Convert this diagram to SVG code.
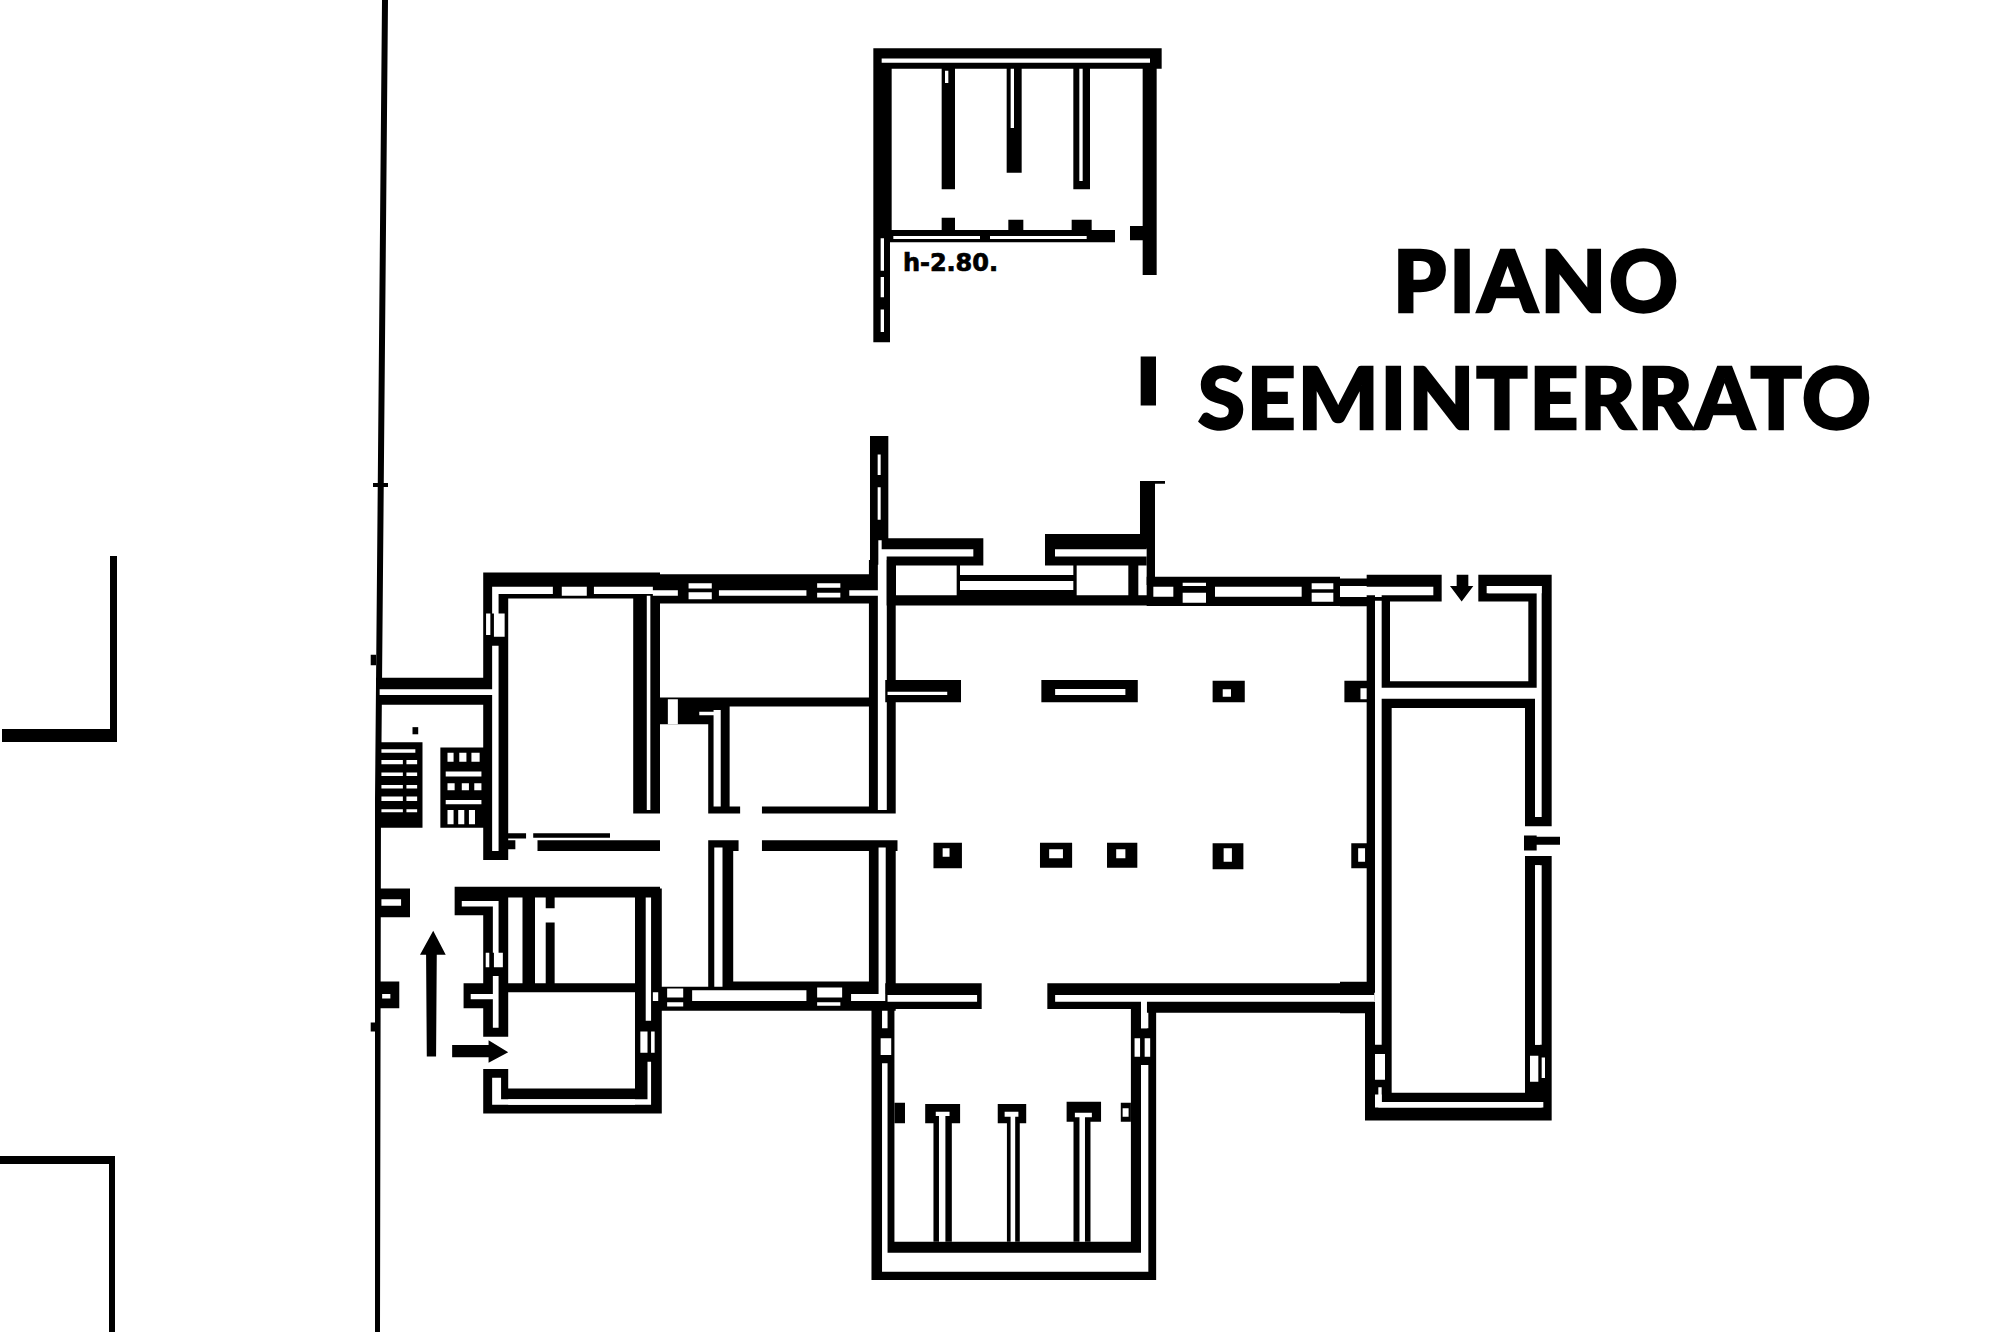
<svg xmlns="http://www.w3.org/2000/svg" width="2000" height="1332" viewBox="0 0 2000 1332">
<style>
.k{fill:#000}
.w{fill:#fff}
.t{font-family:"Lato","Open Sans","Liberation Sans",sans-serif;font-weight:900;font-size:85px;fill:#000;stroke:#000;stroke-width:2.5}
.n{font-family:"DejaVu Sans",sans-serif;font-weight:700;font-size:24px;fill:#000;stroke:#000;stroke-width:.7}
</style>
<rect width="2000" height="1332" fill="#fff"/>
<g id="street">
<path class="k" d="M382 0H388L381 800L380 1332H375L375 800Z"/>
<path class="k" d="M373 483H388V487H373Z"/>
<path class="k" d="M2 729H110V556H117V742H2Z"/>
<path class="k" d="M0 1156H115V1332H109V1164H0Z"/>
</g>
<g id="west-wing" transform="translate(360 560) scale(.35714)">
<path class="k" d="M30 265H45V295H30ZM30 1295H45V1320H30ZM345 35H840V108H345ZM840 40H1450V122H840ZM345 35H415V840H345ZM45 330H370V405H45ZM45 510H175V750H45ZM225 525H345V750H225ZM415 765H465V780H415ZM485 765H700V778H485ZM497 785H840V815H497ZM415 785H435V810H415ZM765 100H840V710H765ZM830 385H1430V410H830ZM830 385H975V460H830ZM975 410H1035V710H975ZM975 690H1065V710H975ZM1125 690H1430V710H1125ZM1425 0H1500V710H1425Z"/>
<path class="k" d="M975 785H1060V815H975ZM1125 785H1505V815H1125ZM975 785H1045V1195H975ZM1425 785H1500V1262H1425ZM975 1180H1430V1262H975ZM810 1195H975V1262H810Z"/>
<path class="k" d="M265 915H840V945H265ZM265 915H345V995H265ZM345 945H415V1335H345ZM290 1185H345V1255H290ZM455 945H490V1185H455ZM520 945H545V975H520ZM520 1015H545V1185H520ZM415 1185H775V1210H415ZM770 920H845V1550H770ZM345 1425H415V1550H345ZM395 1480H805V1510H395ZM345 1525H845V1550H345ZM55 920H140V1000H55ZM55 1180H110V1255H55Z"/>
<path class="w" d="M370 75H540V95H370ZM370 75H388V150H370ZM565 75H635V100H565ZM655 75H820V95H655ZM820 85H890V100H820ZM920 65H985V80H920ZM920 90H985V110H920ZM1005 85H1250V100H1005ZM1280 65H1345V78H1280ZM1280 92H1345V105H1280ZM1370 85H1475V100H1370ZM375 150H405V215H375ZM353 150H365V210H353ZM370 240H388V815H370ZM55 362H380V378H55ZM803 100H813V700H803ZM862 390H890V460H862ZM950 425H1005V435H950ZM990 420H1010V690H990ZM1450 0H1475V700H1450Z"/>
<path class="w" d="M60 530H155V540H60ZM60 560H120V572H60ZM130 560H160V572H130ZM60 595H120V605H60ZM130 595H160V605H130ZM60 630H120V640H60ZM130 630H160V640H130ZM60 662H120V675H60ZM130 662H160V675H130ZM60 698H120V706H60ZM130 698H160V706H130Z"/>
<path class="w" d="M245 540H262V565H245ZM278 540H298V565H278ZM312 540H335V565H312ZM240 592H340V606H240ZM245 625H265V645H245ZM285 625H305V645H285ZM320 625H340V645H320ZM240 672H340V684H240ZM245 700H262V740H245ZM275 700H292V740H275ZM305 700H322V740H305Z"/>
<path class="k" d="M147 468H163V488H147Z"/>
<path class="w" d="M992 805H1015V1195H992ZM1452 805H1472V1215H1452ZM930 1205H1250V1235H930ZM1280 1197H1350V1225H1280ZM1280 1238H1345V1248H1280ZM1375 1215H1475V1235H1375ZM860 1200H905V1225H860ZM860 1238H905V1250H860ZM820 1210H835V1235H820Z"/>
<path class="w" d="M285 955H372V970H285ZM372 955H388V1100H372ZM352 1100H362V1140H352ZM375 1100H400V1140H375ZM372 1165H388V1310H372ZM310 1215H372V1230H310ZM800 945H815V1290H800ZM785 1320H805V1380H785ZM815 1320H825V1380H815ZM805 1405H815V1510H805ZM370 1450H395V1525H370ZM370 1510H815V1525H370ZM60 950H115V968H60ZM62 1215H85V1228H62Z"/>
<path class="w" d="M1065 685H1125V715H1065ZM1065 782H1125V818H1065Z"/>
<path class="k" d="M185 1100H215L213 1390H187ZM168 1105L205 1038L240 1105Z"/>
<path class="k" d="M258 1358H360V1392H258ZM360 1345L415 1378L360 1408Z"/>
</g>
<g id="north-wing" transform="translate(860 30) scale(.33333 .40816)">
<path class="k" d="M40 45H905V95H40ZM40 45H95V500H40ZM40 500H90V765H40ZM245 95H285V390H245ZM440 95H485V350H440ZM640 95H690V390H640ZM90 490H765V520H90ZM245 460H285V490H245ZM445 465H490V490H445ZM635 465H695V490H635ZM810 480H850V515H810ZM848 95H890V600H848ZM842 800H888V920H842ZM30 995H85V1250H30ZM30 1250H55V1310H30Z"/>
<path class="w" d="M65 70H870V80H65ZM62 510H72V590H62ZM62 605H72V655H62ZM62 685H72V740H62ZM255 100H265V130H255ZM452 95H462V240H452ZM658 95H668V370H658ZM100 505H360V512H100ZM390 505H680V512H390ZM53 1040H62V1090H53ZM53 1120H62V1200H53Z"/>
<path class="k" d="M840 1105H915V1112H840ZM840 1105H885V1270H840ZM860 1270H885V1345H860ZM860 1345H1020V1360H860Z"/>
<path class="k" d="M65 1245H370V1272H65ZM340 1245H370V1312H340ZM80 1290H370V1312H80ZM555 1235H860V1272H555ZM555 1235H585V1312H555ZM585 1290H860V1312H585ZM80 1290H108V1410H80ZM290 1300H300V1410H290ZM640 1300H650V1410H640ZM805 1290H835V1410H805ZM80 1385H1020V1410H80ZM300 1335H640V1350H300ZM300 1372H640V1385H300Z"/>
</g>
<g id="hall-top-wall" transform="translate(1100 540) scale(.33333)">
<path class="k" d="M140 110H720V198H140Z"/>
<path class="w" d="M160 140H220V170H160ZM248 128H318V138H248ZM248 158H318V188H248ZM345 140H605V170H345ZM635 130H700V148H635ZM635 158H700V185H635ZM735 145H720V170H735Z"/>
</g>
<g id="main-hall" transform="translate(860 640) scale(.45914 .33333)">
<path class="k" d="M55 120H220V187H55ZM395 120H605V187H395ZM768 122H838V187H768ZM1055 122H1110V187H1055ZM160 608H222V685H160ZM392 608H462V683H392ZM538 608H604V683H538ZM768 610H835V688H768ZM1070 610H1120V685H1070Z"/>
<path class="w" d="M60 155H190V165H60ZM425 147H578V165H425ZM790 148H808V170H790ZM1090 145H1105V178H1090ZM180 625H195V650H180ZM412 628H442V655H412ZM558 628H578V655H558ZM792 625H810V665H792ZM1085 625H1100V665H1085Z"/>
</g>
<g id="south-wing" transform="translate(860 960) scale(.45914 .33333)">
<path class="k" d="M55 70H265V147H55ZM408 70H1120V147H408ZM590 125H1120V158H590ZM25 130H48V960H25ZM60 130H75V878H60ZM590 130H612V878H590ZM628 130H645V960H628ZM25 935H645V960H25ZM60 845H612V878H60ZM25 205H75V310H25ZM590 205H645V315H590Z"/>
<path class="w" d="M60 105H255V125H60ZM425 105H1120V125H425ZM612 125H625V205H612ZM45 235H68V285H45ZM598 235H610V290H598ZM620 235H632V290H620Z"/>
<path class="k" d="M142 432H218V490H142ZM160 490H200V845H160ZM300 432H362V490H300ZM320 490H348V845H320ZM450 425H525V485H450ZM465 485H502V845H465ZM75 428H98V490H75ZM568 428H590V485H568Z"/>
<path class="w" d="M165 455H195V468H165ZM172 468H186V845H172ZM315 455H345V470H315ZM328 470H338V845H328ZM468 458H505V472H468ZM478 472H490V845H478ZM572 445H585V470H572Z"/>
</g>
<g id="east-wing" transform="translate(1340 560) scale(.33333 .36996)">
<path class="k" d="M0 50H80V70H0ZM80 40H305V110H80ZM0 100H105V125H0ZM80 100H105V1170H80ZM0 1140H105V1170H0ZM0 1195H105V1225H0ZM75 1200H105V1515H75ZM125 90H305V112H125ZM125 90H150V345H125ZM125 328H590V345H125ZM565 90H590V345H565ZM415 40H445V112H415ZM415 40H635V70H415ZM445 90H590V112H445ZM605 40H635V720H605ZM555 375H585V720H555ZM555 695H635V720H555ZM125 375H585V400H125ZM125 375H155V1440H125ZM605 805H635V1515H605ZM555 800H585V1440H555ZM555 800H635V825H555ZM75 1480H635V1515H75ZM105 1310H155V1445H105ZM555 1310H620V1440H555ZM125 1440H590V1465H125ZM555 1430H610V1470H555Z"/>
<path class="w" d="M0 72H280V95H0ZM440 70H605V90H440ZM105 95H125V100H105ZM105 1335H135V1405H105ZM115 1425H125V1470H115ZM115 1465H610V1480H115ZM570 1340H595V1410H570ZM605 1345H615V1400H605ZM585 825H600V1310H585Z"/>
<path class="k" d="M350 40H385V70H350ZM330 70H400L365 112ZM552 745H590V785H552ZM590 748H660V770H590Z"/>
</g>
<g id="labels">
<text class="n" x="903" y="271" textLength="95">h-2.80.</text>
<text class="t" x="1393" y="312" textLength="285">PIANO</text>
<text class="t" x="1198" y="429" textLength="673">SEMINTERRATO</text>
</g>
</svg>
